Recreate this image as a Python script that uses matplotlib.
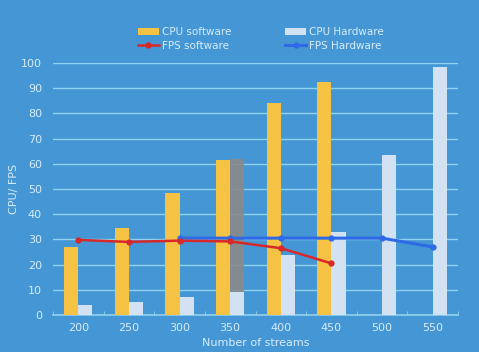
import matplotlib.pyplot as plt
import numpy as np

streams = ['200', '250', '300', '350', '400', '450', '500', '550']
cpu_sw = [27, 34.5, 48.5, 61.5, 84, 92.5, np.nan, np.nan]
cpu_hw = [4, 5, 7, 9, 24, 33, 63.5, 98.5]
fps_sw = [29.8, 29, 29.5, 29.2, 26.5, 20.5, np.nan, np.nan]
fps_hw = [np.nan, np.nan, 30.5, 30.5, 30.5, 30.5, 30.5, 27]
# odd gray block behind the hardware bar at 350
gray_block = [0, 0, 0, 62, 0, 0, 0, 0]

bg = '#4596d5'
txt = '#d6ecf8'
grid = '#8fd2ee'

fig = plt.figure(figsize=(4.79, 3.52), dpi=100, facecolor=bg)
ax = fig.add_axes([53/479, 1-315/352, 405/479, 252/352])
ax.set_facecolor(bg)

index = np.arange(len(streams))
w = 0.28

b1 = ax.bar(index - w/2, cpu_sw, w, color='#f5c243', label='CPU software', zorder=3)
ax.bar(index + w/2, gray_block, w, color='#8a8a8a', alpha=0.9, zorder=2)
b2 = ax.bar(index + w/2, cpu_hw, w, color='#d3e2f2', label='CPU Hardware', zorder=3)
l1, = ax.plot(index, fps_sw, color='#d7282a', marker='o', markersize=3.5, lw=1.8,
              label='FPS software', zorder=5)
l2, = ax.plot(index, fps_hw, color='#2f6ae6', marker='o', markersize=3.5, lw=2.2,
              label='FPS Hardware', zorder=4)

ax.set_xlim(-0.5, len(streams) - 0.5)
ax.set_ylim(0, 100)
ax.set_yticks(range(0, 101, 10))
ax.set_xticks(index)
ax.set_xticklabels(streams)
ax.set_xticks(np.arange(-0.5, len(streams), 1), minor=True)
ax.tick_params(axis='x', which='major', length=0, colors=txt, labelsize=8, pad=6)
ax.tick_params(axis='x', which='minor', length=3, color=grid, direction='in')
ax.tick_params(axis='y', length=0, colors=txt, labelsize=8, pad=8)
ax.grid(axis='y', color=grid, lw=1, zorder=0)
for s in ['top', 'right', 'left']:
    ax.spines[s].set_visible(False)
ax.spines['bottom'].set_color(grid)
ax.spines['bottom'].set_linewidth(1.2)

ax.set_xlabel('Number of streams', color=txt, fontsize=8, labelpad=3)
ax.set_ylabel('CPU/ FPS', color=txt, fontsize=8)
ax.yaxis.set_label_coords(-0.085, 0.5)

leg = fig.legend([b1, l1, b2, l2],
                 ['CPU software', 'FPS software', 'CPU Hardware', 'FPS Hardware'],
                 ncol=2, loc='center', bbox_to_anchor=(0.545, 1-39/352),
                 frameon=False, fontsize=7.5, handlelength=2.0,
                 columnspacing=5.2, labelspacing=0.3, handletextpad=0.3)
for t in leg.get_texts():
    t.set_color(txt)

plt.savefig('out.png', dpi=100, facecolor=bg)
